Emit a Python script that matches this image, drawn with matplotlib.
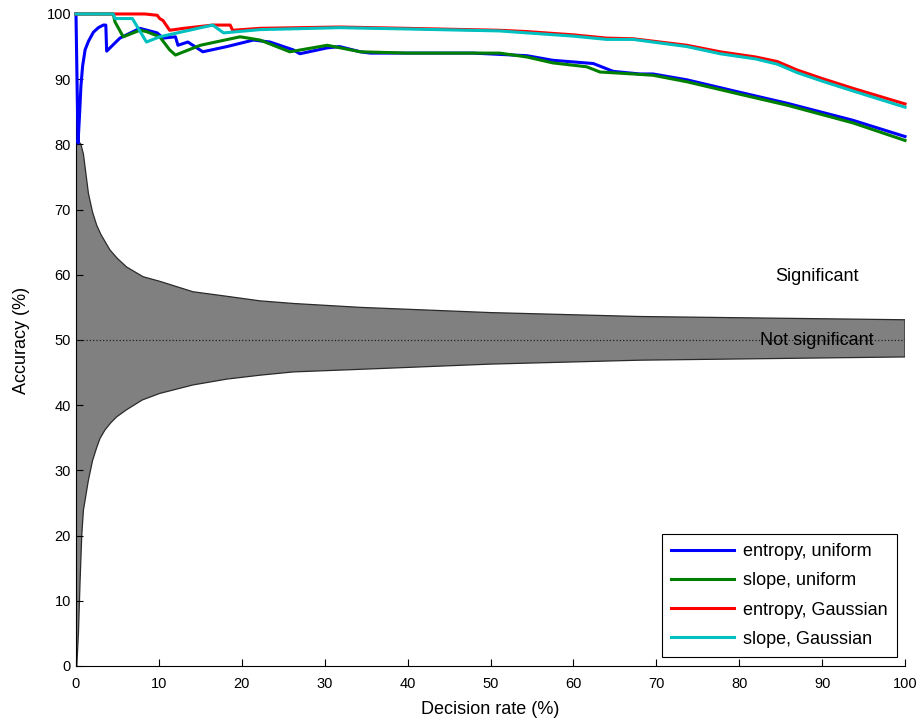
import numpy as np
import matplotlib
matplotlib.use("Agg")
import matplotlib.pyplot as plt

plt.rcParams['font.family'] = ['Liberation Sans', 'DejaVu Sans']

# significance band (binomial chance level)
band_up_x = [0, 0.3, 0.6, 0.9, 1.2, 1.5, 2.0, 2.5, 3.0, 4.1, 5.0, 6.1, 8.1, 10.1, 14.1, 18.2, 22.2, 26.2, 34.3, 50, 68, 100]
band_up_y = [80, 80.5, 80, 78.5, 75.5, 72.5, 69.6, 67.6, 66.2, 63.8, 62.5, 61.2, 59.7, 59.0, 57.4, 56.7, 56.0, 55.6, 55.0, 54.2, 53.6, 53.1]
band_lo_x = [0, 0.1, 0.3, 0.5, 0.7, 0.9, 1.5, 2.0, 2.5, 2.9, 3.5, 4.2, 4.9, 6.1, 8.0, 10.1, 14.1, 18.2, 22.2, 26.2, 34.3, 50, 68, 100]
band_lo_y = [0, 0, 5.1, 13.2, 20.1, 23.9, 28.5, 31.5, 33.5, 34.9, 36.2, 37.3, 38.2, 39.3, 40.8, 41.8, 43.1, 44.0, 44.6, 45.1, 45.5, 46.3, 46.9, 47.4]

# accuracy curves
ent_uni_x = [0, 0.25, 0.45, 0.6, 0.8, 1.1, 1.5, 2.1, 2.7, 3.3, 3.6, 3.7, 5.3, 7.7, 9.8, 10.5, 12, 12.3, 13.5,
             15.3, 18.2, 21.4, 23.4, 26.2, 27, 30.3, 31.8, 34.3, 35.5, 39.9, 47.9, 54.4, 57.5, 62.4, 64.8,
             68, 69.6, 73.7, 79.7, 85.8, 93.7, 100]
ent_uni_y = [100, 80.2, 85, 89, 92, 94.5, 95.8, 97.2, 97.9, 98.3, 98.3, 94.3, 96.3, 97.8, 97.1, 96.3, 96.5, 95.2, 95.7,
             94.2, 95.0, 96.0, 95.7, 94.5, 93.9, 94.8, 95.0, 94.2, 94.0, 94.0, 94.0, 93.6, 92.9, 92.4, 91.2,
             90.8, 90.8, 89.9, 88.1, 86.3, 83.7, 81.2]

slo_uni_x = [0, 4.5, 4.7, 5.7, 7.7, 8.5, 10.1, 11.3, 12, 15, 19.8, 22.2, 25.8, 30.3, 34.3, 40, 48, 51.1,
             54.4, 57.5, 61.6, 63.2, 67.2, 69.6, 73.7, 79.7, 85.8, 93.7, 100]
slo_uni_y = [100, 100, 98.8, 96.5, 97.5, 97.3, 96.5, 94.5, 93.7, 95.2, 96.5, 96.0, 94.2, 95.2, 94.2, 94.0, 94.0, 94.0,
             93.4, 92.5, 91.9, 91.1, 90.8, 90.6, 89.6, 87.8, 86.0, 83.3, 80.6]

ent_gau_x = [0, 8.3, 9.8, 10.1, 10.5, 11.3, 13, 16.5, 18.6, 18.9, 22.2, 31.8, 39.9, 51.1, 54.4, 60, 64,
             67.2, 73.7, 77.7, 82, 84.6, 87, 90, 93.7, 100]
ent_gau_y = [100, 100, 99.8, 99.3, 99.0, 97.5, 97.8, 98.3, 98.3, 97.5, 97.8, 98.0, 97.8, 97.5, 97.3, 96.8, 96.3,
             96.2, 95.2, 94.2, 93.4, 92.7, 91.4, 90.1, 88.6, 86.2]

slo_gau_x = [0, 4.5, 4.7, 6.8, 8.5, 10.1, 16.5, 17.8, 22.2, 31.8, 39.9, 51.1, 54.4, 60, 64, 67.2, 73.7,
             77.7, 82, 84.6, 87, 90, 93.7, 100]
slo_gau_y = [100, 100, 99.3, 99.3, 95.7, 96.5, 98.3, 97.1, 97.6, 97.9, 97.7, 97.4, 97.1, 96.6, 96.1, 96.1, 95.0,
             93.9, 93.1, 92.3, 91.0, 89.7, 88.2, 85.7]

fig = plt.figure(figsize=(9.22, 7.28), dpi=100)
ax = fig.add_axes([0.0824, 0.0852, 0.8992, 0.8956])

# grey band
poly_x = band_up_x + band_lo_x[::-1]
poly_y = band_up_y + band_lo_y[::-1]
ax.fill(poly_x, poly_y, facecolor='#808080', edgecolor='#2a2a2a', linewidth=0.9, zorder=1)
ax.plot([0, 100], [50, 50], ':', color='#222222', linewidth=0.9, zorder=2)

ax.plot(ent_uni_x, ent_uni_y, color='#0000ff', lw=2.2, label='entropy, uniform', clip_on=False, zorder=3)
ax.plot(slo_uni_x, slo_uni_y, color='#008000', lw=2.2, label='slope, uniform', clip_on=False, zorder=3)
ax.plot(ent_gau_x, ent_gau_y, color='#ff0000', lw=2.2, label='entropy, Gaussian', clip_on=False, zorder=3)
ax.plot(slo_gau_x, slo_gau_y, color='#00c0c0', lw=2.2, label='slope, Gaussian', clip_on=False, zorder=3)

ax.text(89.4, 59.7, 'Significant', ha='center', va='center', fontsize=13)
ax.text(89.4, 49.9, 'Not significant', ha='center', va='center', fontsize=13)

ax.set_xlim(0, 100)
ax.set_ylim(0, 100)
ax.set_xticks(np.arange(0, 101, 10))
ax.set_yticks(np.arange(0, 101, 10))
ax.tick_params(direction='in', length=5, labelsize=10.5, width=0.8)
ax.tick_params(axis='x', pad=8)
ax.spines['top'].set_visible(False)
ax.spines['right'].set_visible(False)
ax.set_xlabel('Decision rate (%)', fontsize=13, labelpad=7)
ax.set_ylabel('Accuracy (%)', fontsize=13, labelpad=12)

leg = ax.legend(loc='lower right', bbox_to_anchor=(0.99, 0.014), borderaxespad=0, fontsize=13,
                handlelength=3.5, labelspacing=0.68, handletextpad=0.5, borderpad=0.5,
                fancybox=False, edgecolor='black', framealpha=1)
leg.get_frame().set_linewidth(0.8)

fig.savefig('out.png', dpi=100)
